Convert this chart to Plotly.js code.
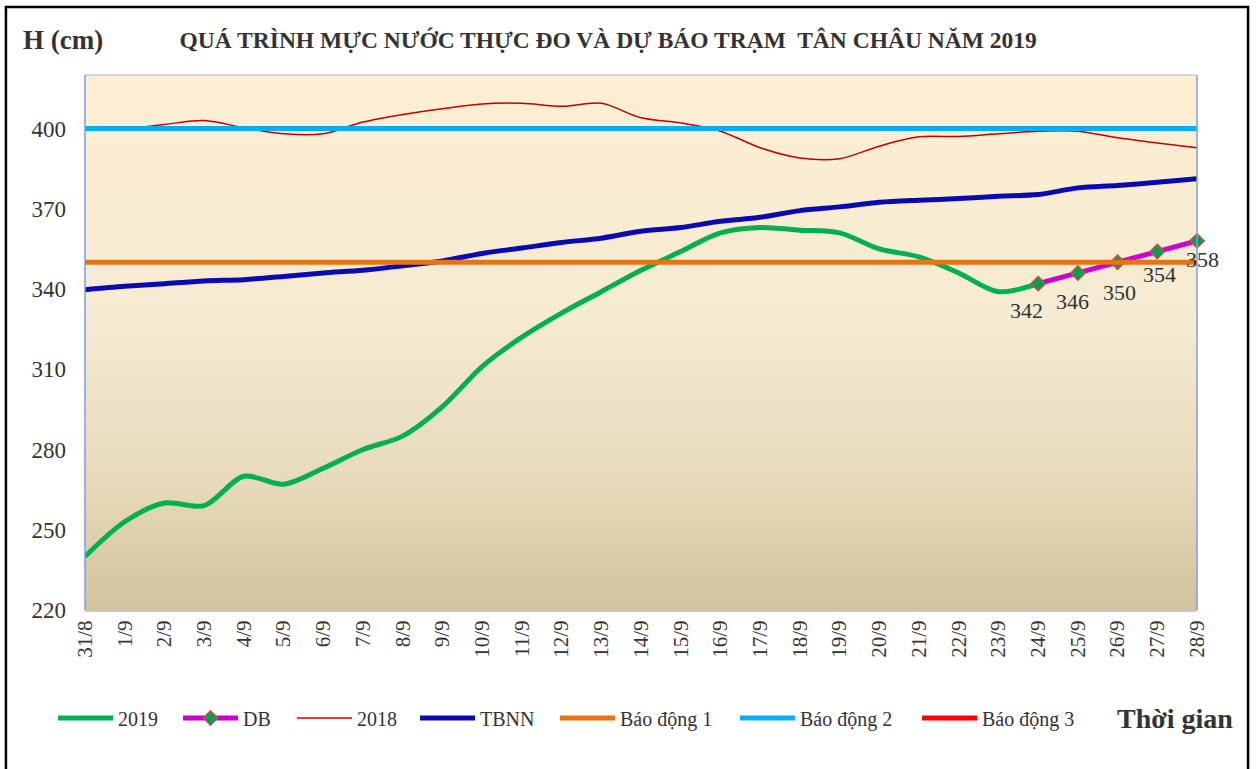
<!DOCTYPE html>
<html>
<head>
<meta charset="utf-8">
<script src="https://cdn.plot.ly/plotly-3.0.1.min.js"></script>
<style>html,body{margin:0;padding:0;background:#fff;}#chart{width:1259px;height:769px;}</style>
</head>
<body>
<div id="chart"></div>
<script>
// ---- data ----
const dates = ['31/8','1/9','2/9','3/9','4/9','5/9','6/9','7/9','8/9','9/9','10/9','11/9','12/9','13/9','14/9',
  '15/9','16/9','17/9','18/9','19/9','20/9','21/9','22/9','23/9','24/9','25/9','26/9','27/9','28/9'];
const h2019 = [240,253,260,259,270,267,273,280,285,296,311,322,331,339,347,354,361,363,362,361,355,352,346,339,342,null,null,null,null];
const hDB   = [null,null,null,null,null,null,null,null,null,null,null,null,null,null,null,null,null,null,null,null,null,null,null,null,342,346,350,354,358];
const h2018 = [400,400,401.5,403,400.3,398,398,402.4,405.2,407.4,409.2,409.4,408.3,409.4,404,402.1,399,392.8,389,388.7,393.4,396.9,397,398,399,399,396.5,394.6,392.8];
const hTBNN = [339.7,341,342,343,343.5,344.7,346,347,348.7,350.5,353.3,355.3,357.4,359,361.6,363,365.3,366.8,369.3,370.7,372.4,373.2,373.8,374.7,375.3,377.8,378.7,379.9,381.2];
const BD1 = 350, BD2 = 400, BD3 = 450;
const yTicks = [220,250,280,310,340,370,400];
const seriesNames = ['2019','DB','2018','TBNN','Báo động 1','Báo động 2','Báo động 3'];

const serif = 'Liberation Serif';
const txt = '#333333';

const traces = [
  {name:seriesNames[0], legend:'legend', x:dates, y:h2019, type:'scatter', mode:'lines', line:{color:'#00B050', width:5, shape:'spline', smoothing:0.9}},
  {name:seriesNames[1], legend:'legend2', x:dates, y:hDB, type:'scatter', mode:'lines+markers', cliponaxis:false,
   line:{color:'#CC00CC', width:5}, marker:{symbol:'diamond', size:11, color:'#00A050', line:{color:'#C0504D', width:1.5}}},
  {name:seriesNames[2], legend:'legend3', x:dates, y:h2018, type:'scatter', mode:'lines', line:{color:'#C00000', width:1.5, shape:'spline', smoothing:0.9}},
  {name:seriesNames[3], legend:'legend4', x:dates, y:hTBNN, type:'scatter', mode:'lines', line:{color:'#0A0AB4', width:5, shape:'spline', smoothing:0.9}},
  {name:seriesNames[4], legend:'legend5', x:dates, y:dates.map(() => BD1), type:'scatter', mode:'lines', line:{color:'#E8730F', width:5}},
  {name:seriesNames[5], legend:'legend6', x:dates, y:dates.map(() => BD2), type:'scatter', mode:'lines', line:{color:'#00B0F0', width:5}},
  {name:seriesNames[6], legend:'legend7', x:dates, y:dates.map(() => BD3), type:'scatter', mode:'lines', line:{color:'#FF0000', width:5}}
];

const svgBg = "<svg xmlns='http://www.w3.org/2000/svg' width='100' height='100' preserveAspectRatio='none'>" +
  "<defs><linearGradient id='g' x1='0' y1='0' x2='0' y2='1'>" +
  "<stop offset='0' stop-color='#FDEFD2'/><stop offset='0.45' stop-color='#F5EBD3'/>" +
  "<stop offset='0.75' stop-color='#E7DBBC'/><stop offset='1' stop-color='#D2C39E'/>" +
  "</linearGradient></defs><rect width='100' height='100' fill='url(#g)'/></svg>";
const bgSrc = 'data:image/svg+xml;charset=utf-8,' + encodeURIComponent(svgBg);

// legend placement (pixel start of each legend entry)
const plotL = 85, plotW = 1112;
const legendStarts = [53, 178, 292, 415, 555, 735, 917];
function legendBox(px) {
  return {orientation:'h', x:(px - plotL) / plotW, xanchor:'left', y:-0.202, yanchor:'middle',
    font:{family:serif, size:20, color:txt}, itemwidth:55, bgcolor:'rgba(0,0,0,0)', borderwidth:0};
}

// DB value labels (offsets in pixels from each point)
const dbShiftX = [-12,-5,2,2,5];
const dbShiftY = [-27,-29,-30,-23,-19];
const dbAnnotations = [];
let k = 0;
hDB.forEach((v, i) => {
  if (v === null) return;
  dbAnnotations.push({x:dates[i], y:v, xref:'x', yref:'y', text:String(v), showarrow:false,
    xshift:dbShiftX[k], yshift:dbShiftY[k], font:{family:serif, size:22, color:txt}});
  k++;
});

const layout = {
  width:1259, height:769,
  margin:{l:85, r:62, t:75, b:159},
  paper_bgcolor:'#ffffff',
  plot_bgcolor:'rgba(0,0,0,0)',
  showlegend:true,
  title:{text:'QUÁ TRÌNH MỰC NƯỚC THỰC ĐO VÀ DỰ BÁO TRẠM  TÂN CHÂU NĂM 2019',
    font:{family:serif, size:23.5, color:txt, weight:'bold'},
    x:0.483, xanchor:'center', xref:'container', y:0.948, yanchor:'middle', yref:'container'},
  xaxis:{type:'category', range:[0, dates.length-1], showgrid:false, zeroline:false,
    tickangle:-90, tickfont:{family:serif, size:21, color:txt}, ticks:'', showline:true, linecolor:'#C8C8C8', linewidth:2,
    fixedrange:true},
  yaxis:{range:[220,420], tickvals:yTicks, ticktext:yTicks.map(String), showgrid:false, zeroline:false,
    tickfont:{family:serif, size:23, color:txt}, ticks:'', ticklabelstandoff:18, showline:false, fixedrange:true},
  legend:legendBox(legendStarts[0]),
  legend2:legendBox(legendStarts[1]),
  legend3:legendBox(legendStarts[2]),
  legend4:legendBox(legendStarts[3]),
  legend5:legendBox(legendStarts[4]),
  legend6:legendBox(legendStarts[5]),
  legend7:legendBox(legendStarts[6]),
  images:[{source:bgSrc, xref:'paper', yref:'paper', x:0, y:1, sizex:1, sizey:1, sizing:'stretch', layer:'below', xanchor:'left', yanchor:'top'}],
  shapes:[
    {type:'line', xref:'paper', yref:'paper', x0:0, x1:0, y0:0, y1:1, line:{color:'#7F9FD3', width:1.5}},
    {type:'line', xref:'paper', yref:'paper', x0:1, x1:1, y0:0, y1:1, line:{color:'#7F9FD3', width:1.5}},
    {type:'line', xref:'paper', yref:'paper', x0:0, x1:1, y0:1, y1:1, line:{color:'#9FB6DD', width:1}},
    {type:'rect', xref:'paper', yref:'paper', x0:-0.0711, x1:1.0459, y0:-0.31, y1:1.127, line:{color:'#000000', width:2.5}}
  ],
  annotations:[
    {text:'<b>H (cm)</b>', xref:'paper', yref:'paper', x:-0.0575, y:1.066, xanchor:'left', yanchor:'middle', showarrow:false,
     font:{family:serif, size:27, color:txt}},
    {text:'<b>Thời gian</b>', xref:'paper', yref:'paper', x:1.0345, y:-0.202, xanchor:'right', yanchor:'middle', showarrow:false,
     font:{family:serif, size:28, color:txt}}
  ].concat(dbAnnotations)
};

Plotly.newPlot('chart', traces, layout, {displayModeBar:false, staticPlot:true});
</script>
</body>
</html>
